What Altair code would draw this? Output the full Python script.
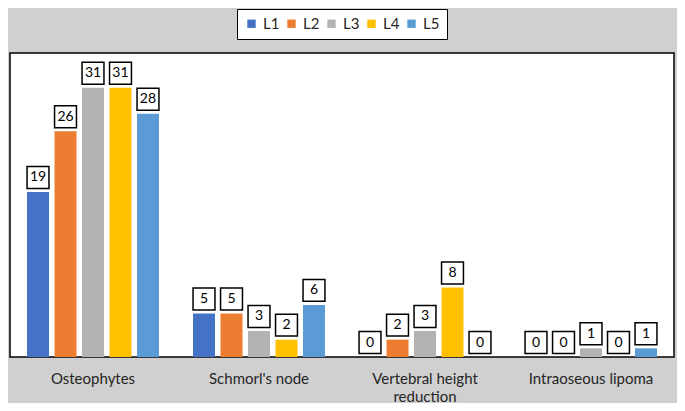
import altair as alt
import pandas as pd

categories = ["Osteophytes", "Schmorl's node", "Vertebral height reduction", "Intraoseous lipoma"]
levels = ["L1", "L2", "L3", "L4", "L5"]
values = {
    "L1": [19, 5, 0, 0],
    "L2": [26, 5, 2, 0],
    "L3": [31, 3, 3, 1],
    "L4": [31, 2, 8, 0],
    "L5": [28, 6, 0, 1],
}
colors = ["#4472C4", "#ED7D31", "#B3B3B3", "#FFC000", "#5B9BD5"]

rows = []
for lv in levels:
    for c, v in zip(categories, values[lv]):
        rows.append({"category": c, "level": lv, "value": v})
df = pd.DataFrame(rows)

FONT = "Lato"

x = alt.X("category:N", sort=categories, title=None,
          scale=alt.Scale(paddingInner=0.205, paddingOuter=0.1025),
          axis=alt.Axis(labelAngle=0, domain=False, ticks=False, labelFontSize=15,
                        labelLineHeight=18,
                        labelColor="#262626", labelFont=FONT, labelPadding=14,
                        labelExpr="datum.value == 'Vertebral height reduction' ? ['Vertebral height', 'reduction'] : datum.value"))
xo = alt.XOffset("level:N", sort=levels, scale=alt.Scale(paddingInner=0.2))
y = alt.Y("value:Q", scale=alt.Scale(domain=[0, 35], nice=False), axis=None)

base = alt.Chart(df)

bars = base.mark_bar().encode(
    x=x, xOffset=xo, y=y,
    color=alt.Color("level:N", sort=levels,
                    scale=alt.Scale(domain=levels, range=colors),
                    legend=alt.Legend(title=None, orient="none", direction="horizontal",
                                      legendX=227, legendY=-44,
                                      symbolType="square", symbolSize=70,
                                      labelFontSize=15, labelFont=FONT, labelColor="#262626",
                                      fillColor="white", strokeColor="black",
                                      padding=7, columnPadding=4, labelOffset=4,
                                      symbolStrokeWidth=0)),
)

boxes = base.mark_square(size=480, fill="white", stroke="black", strokeWidth=1.5,
                         opacity=1, yOffset=-14.5).encode(x=x, xOffset=xo, y=y)

labels = base.mark_text(fontSize=14, font=FONT, color="black", baseline="middle",
                        yOffset=-14.5).encode(x=x, xOffset=xo, y=y, text="value:Q")

chart = alt.layer(bars, boxes, labels).properties(
    width=664, height=304,
    autosize=alt.AutoSizeParams(type="none"),
    padding={"left": 2, "top": 45, "right": 3, "bottom": 46},
).configure(background="#d0d0d0").configure_view(
    fill="white", stroke="black", strokeWidth=1.5
)

chart.save("out.html", embed_options={"renderer": "svg", "actions": False})
